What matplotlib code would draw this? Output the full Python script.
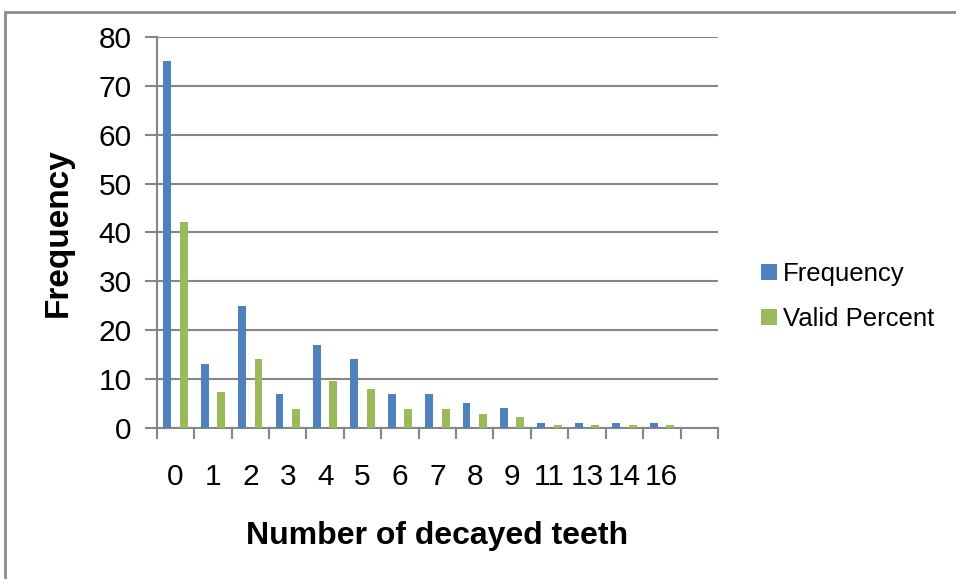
import numpy as np
import matplotlib.pyplot as plt
from matplotlib.patches import Rectangle

# values (last slot on the axis is empty)
categories = ["0", "1", "2", "3", "4", "5", "6", "7", "8", "9", "11", "13", "14", "16", ""]
frequency = [75, 13, 25, 7, 17, 14, 7, 7, 5, 4, 1, 1, 1, 1, 0]
valid_percent = [42.1, 7.3, 14.0, 3.9, 9.6, 7.9, 3.9, 3.9, 2.8, 2.2, 0.6, 0.6, 0.6, 0.6, 0]

plt.rcParams['font.family'] = ['Liberation Sans', 'DejaVu Sans']

fig = plt.figure(figsize=(9.56, 5.79), dpi=100)
ax = fig.add_axes([0.164, 0.261, 0.587, 0.675])

x = np.arange(len(categories))
w = 0.21
ax.bar(x - 0.22, frequency, w, color='#4F81BD', label='Frequency', zorder=3)
ax.bar(x + 0.22, valid_percent, w, color='#9BBB59', label='Valid Percent', zorder=3)

grey = '#868686'
ax.set_xlim(-0.5, len(categories) - 0.5)
ax.set_ylim(0, 80)
ax.set_yticks(range(0, 81, 10))
ax.yaxis.grid(True, color=grey, linewidth=1.5, zorder=0)
ax.tick_params(axis='y', length=9, width=1.5, color=grey, labelsize=21.5, pad=9)

# category labels centred, ticks on boundaries
ax.set_xticks(x)
ax.set_xticklabels(categories)
ax.tick_params(axis='x', which='major', length=0, labelsize=21.5, pad=25)
ax.set_xticks(np.arange(-0.5, len(categories), 1), minor=True)
ax.tick_params(axis='x', which='minor', length=8, width=1.5, color=grey)

for s in ['top', 'right']:
    ax.spines[s].set_visible(False)
for s in ['left', 'bottom']:
    ax.spines[s].set_color(grey)
    ax.spines[s].set_linewidth(1.5)

ax.set_xlabel('Number of decayed teeth', fontsize=23, fontweight='bold', labelpad=22)
ax.set_ylabel('Frequency', fontsize=24, fontweight='bold', labelpad=18)

fig.legend(loc='center left', bbox_to_anchor=(0.772, 0.488), frameon=False,
           fontsize=18.5, handlelength=0.6, handleheight=0.6, handletextpad=0.25,
           labelspacing=0.8)

# chart border
fig.patches.append(Rectangle((0.005, -0.01), 1.2, 0.99, transform=fig.transFigure,
                             fill=False, edgecolor='#8c8c8c', linewidth=2))

fig.savefig('out.png', dpi=100)
